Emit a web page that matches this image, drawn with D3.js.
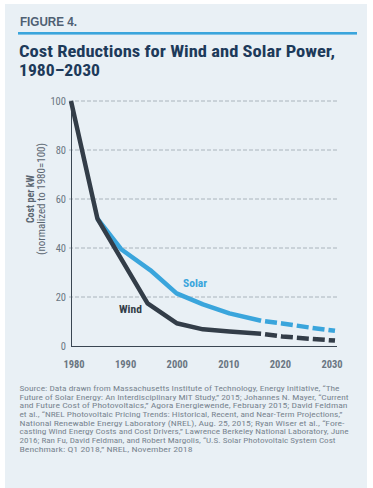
<!DOCTYPE html>
<html>
<head>
<meta charset="UTF-8">
<title>Cost Reductions for Wind and Solar Power</title>
<script src="https://d3js.org/d3.v7.min.js"></script>
<style>
  body {margin: 0; background: #fff;}
  svg text {font-family: "Liberation Sans Narrow", "Roboto Condensed", "DejaVu Sans Condensed", "Liberation Sans", sans-serif;}
</style>
</head>
<body>
<div id="chart"></div>
<script>
// data
var windHist = [[1980, 100], [1985, 52], [1994.5, 17.4], [2000, 9.3], [2005, 6.8], [2010, 5.9], [2016, 5.0]];
var windProj = [[2016, 5.0], [2020, 3.9], [2025, 3.0], [2030, 2.2]];
var solarHist = [[1985, 52], [1989.5, 39.5], [1995, 31], [2000, 21.5], [2005, 17], [2010, 13.3], [2016, 10.3]];
var solarProj = [[2016, 10.3], [2020, 9.2], [2025, 7.6], [2030, 6.2]];
var yTicks = [0, 20, 40, 60, 80, 100];
var xTicks = [1980, 1990, 2000, 2010, 2020, 2030];
var titleLines = ["Cost Reductions for Wind and Solar Power,", "1980\u20132030"];
var sourceLines = [
  "Source: Data drawn from Massachusetts Institute of Technology, Energy Initiative, \u201CThe",
  "Future of Solar Energy: An Interdisciplinary MIT Study,\u201D 2015; Johannes N. Mayer, \u201CCurrent",
  "and Future Cost of Photovoltaics,\u201D Agora Energiewende, February 2015; David Feldman",
  "et al., \u201CNREL Photovoltaic Pricing Trends: Historical, Recent, and Near-Term Projections,\u201D",
  "National Renewable Energy Laboratory (NREL), Aug. 25, 2015; Ryan Wiser et al., \u201CFore-",
  "casting Wind Energy Costs and Cost Drivers,\u201D Lawrence Berkeley National Laboratory, June",
  "2016; Ran Fu, David Feldman, and Robert Margolis, \u201CU.S. Solar Photovoltaic System Cost",
  "Benchmark: Q1 2018,\u201D NREL, November 2018"
];
var sourceWidths = [320, 329, 328, 323, 325, 329, 316, 173];

var W = 373, H = 488;
var solarColor = "#3aa5dc", windColor = "#333d48";

var svg = d3.select("#chart").append("svg")
    .attr("width", W)
    .attr("height", H);

svg.append("rect")
    .attr("x", 5).attr("y", 4)
    .attr("width", 362).attr("height", H - 4)
    .attr("fill", "#e9f0f5");

svg.append("text")
    .attr("x", 20).attr("y", 26)
    .attr("font-size", 12).attr("font-weight", "bold")
    .attr("fill", "#4f6073")
    .attr("textLength", 57).attr("lengthAdjust", "spacingAndGlyphs")
    .style("font-family", "'Liberation Sans', Arial, sans-serif")
    .text("FIGURE 4.");

svg.append("rect")
    .attr("x", 18).attr("y", 32)
    .attr("width", 339).attr("height", 2.6)
    .attr("fill", solarColor);

svg.selectAll(".title").data(titleLines).enter().append("text")
    .attr("class", "title")
    .attr("x", 19)
    .attr("y", function(d, i) {return 56.5 + i * 19.6;})
    .attr("font-size", 17).attr("font-weight", "bold")
    .attr("fill", "#1d3a5a")
    .attr("textLength", function(d, i) {return i == 0 ? 316 : 81;})
    .attr("lengthAdjust", "spacingAndGlyphs")
    .text(function(d) {return d;});

var x = d3.scaleLinear().domain([1980, 2030]).range([71, 335]);
var y = d3.scaleLinear().domain([0, 100]).range([346, 101]);

// grid
svg.selectAll(".grid").data(yTicks.filter(function(d) {return d > 0;})).enter().append("line")
    .attr("class", "grid")
    .attr("x1", 69).attr("x2", 337)
    .attr("y1", function(d) {return y(d);})
    .attr("y2", function(d) {return y(d);})
    .attr("stroke", "#9ba4ad").attr("stroke-width", 0.8)
    .attr("stroke-dasharray", "4,2");

// axes
svg.append("line")
    .attr("x1", 71.5).attr("x2", 71.5)
    .attr("y1", y(100)).attr("y2", y(0))
    .attr("stroke", "#3a4652").attr("stroke-width", 1);
svg.append("line")
    .attr("x1", 71).attr("x2", 337)
    .attr("y1", y(0) + 0.5).attr("y2", y(0) + 0.5)
    .attr("stroke", "#3a4652").attr("stroke-width", 1);

svg.selectAll(".ytick").data(yTicks).enter().append("text")
    .attr("class", "ytick")
    .attr("x", 66)
    .attr("y", function(d) {return y(d) + 3.8;})
    .attr("text-anchor", "end")
    .attr("font-size", 10.5)
    .attr("fill", "#6a7682")
    .text(function(d) {return d;});

svg.selectAll(".xtick").data(xTicks).enter().append("text")
    .attr("class", "xtick")
    .attr("x", function(d) {return x(d) + (d - 2005) / 25 * -3;})
    .attr("y", 368)
    .attr("text-anchor", "middle")
    .attr("font-size", 10.5).attr("font-weight", "bold")
    .attr("fill", "#6a7682")
    .text(function(d) {return d;});

var ylab = svg.append("g").attr("transform", "translate(0,199) rotate(-90)");
ylab.append("text")
    .attr("x", 0).attr("y", 34)
    .attr("text-anchor", "middle")
    .attr("font-size", 10).attr("font-weight", "bold")
    .attr("fill", "#5b6671")
    .text("Cost per kW");
ylab.append("text")
    .attr("x", 0).attr("y", 45)
    .attr("text-anchor", "middle")
    .attr("font-size", 10)
    .attr("fill", "#5b6671")
    .attr("textLength", 112).attr("lengthAdjust", "spacingAndGlyphs")
    .text("(normalized to 1980=100)");

// lines
var line = d3.line()
    .x(function(d) {return x(d[0]);})
    .y(function(d) {return y(d[1]);});

function drawLine(data, color, dashed) {
  var p = svg.append("path")
      .datum(data)
      .attr("d", line)
      .attr("fill", "none")
      .attr("stroke", color)
      .attr("stroke-width", 4.5)
      .attr("stroke-linejoin", "round");
  if (dashed) p.attr("stroke-dasharray", "12,4").attr("stroke-dashoffset", 12);
}

drawLine(solarHist, solarColor, false);
drawLine(solarProj, solarColor, true);
drawLine(windHist, windColor, false);
drawLine(windProj, windColor, true);

svg.append("text")
    .attr("x", 183).attr("y", 287)
    .attr("font-size", 11.5).attr("font-weight", "bold")
    .attr("fill", solarColor)
    .text("Solar");
svg.append("text")
    .attr("x", 119).attr("y", 313)
    .attr("font-size", 11.5).attr("font-weight", "bold")
    .attr("fill", windColor)
    .text("Wind");

svg.selectAll(".src").data(sourceLines).enter().append("text")
    .attr("class", "src")
    .attr("x", 19.5)
    .attr("y", function(d, i) {return 391 + i * 8.65;})
    .attr("font-size", 8)
    .attr("fill", "#7a8691")
    .attr("textLength", function(d, i) {return sourceWidths[i];})
    .attr("lengthAdjust", "spacingAndGlyphs")
    .text(function(d) {return d;});
</script>
</body>
</html>
